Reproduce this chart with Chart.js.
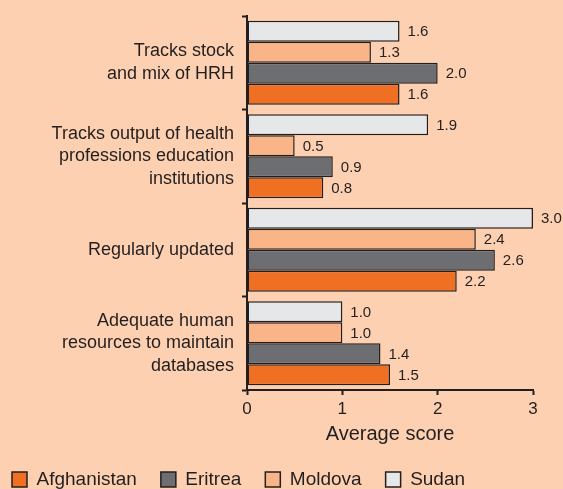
<!DOCTYPE html>
<html>
<head>
<meta charset="utf-8">
<script src="https://cdn.jsdelivr.net/npm/chart.js@4"></script>
<style>
  html, body { margin: 0; padding: 0; background: #FCD0B0; }
  #wrap { width: 563px; height: 489px; position: relative; }
</style>
</head>
<body>
<div id="wrap"><canvas id="myChart"></canvas></div>
<script>
// categories and scores
const categories = [
  ['Tracks stock', 'and mix of HRH'],
  ['Tracks output of health', 'professions education', 'institutions'],
  'Regularly updated',
  ['Adequate human', 'resources to maintain', 'databases']
];
const afghanistan = [1.6, 0.8, 2.2, 1.5];
const eritrea = [2.0, 0.9, 2.6, 1.4];
const moldova = [1.3, 0.5, 2.4, 1.0];
const sudan = [1.6, 1.9, 3.0, 1.0];
const xTicks = [0, 1, 2, 3];

const FONT = '"Liberation Sans", Arial, Helvetica, sans-serif';
const INK = '#231F20';
Chart.defaults.font.family = FONT;
Chart.defaults.color = INK;

// value printed at the end of every bar
const valueLabels = {
  id: 'valueLabels',
  afterDatasetsDraw(chart) {
    const c = chart.ctx;
    c.save();
    c.font = '15px ' + FONT;
    c.fillStyle = INK;
    c.textBaseline = 'middle';
    c.textAlign = 'left';
    chart.data.datasets.forEach((ds, i) => {
      chart.getDatasetMeta(i).data.forEach((bar, j) => {
        c.fillText(ds.data[j].toFixed(1), bar.x + 8, bar.y + 1);
      });
    });
    c.restore();
  }
};

const ctx = document.getElementById('myChart').getContext('2d');

const bar = (label, data, color) => ({
  label: label,
  data: data,
  backgroundColor: color,
  borderColor: INK,
  borderWidth: 1.5,
  borderSkipped: false,
  categoryPercentage: 0.9,
  barPercentage: 1.0
});

const myChart = new Chart(ctx, {
  type: 'bar',
  data: {
    labels: categories,
    datasets: [
      bar('Sudan', sudan, '#E6E7E8'),
      bar('Moldova', moldova, '#F9B487'),
      bar('Eritrea', eritrea, '#6D6E71'),
      bar('Afghanistan', afghanistan, '#F07023')
    ]
  },
  options: {
    indexAxis: 'y',
    responsive: true,
    maintainAspectRatio: false,
    animation: false,
    layout: {
      padding: { top: 16, right: 30, left: -12, bottom: -10 }
    },
    plugins: {
      tooltip: { enabled: false },
      legend: {
        position: 'bottom',
        align: 'start',
        reverse: true,
        labels: {
          boxWidth: 15,
          boxHeight: 15,
          padding: 24,
          color: INK,
          font: { size: 19 }
        }
      }
    },
    scales: {
      x: {
        min: 0,
        max: 3,
        afterBuildTicks: (s) => { s.ticks = xTicks.map(v => ({ value: v })); },
        afterFit: (s) => { s.height = 56; },
        grid: {
          drawOnChartArea: false,
          drawTicks: true,
          tickLength: 5,
          tickWidth: 2,
          tickColor: INK
        },
        border: { color: INK, width: 2 },
        ticks: {
          padding: 4,
          color: INK,
          font: { size: 17 },
          maxRotation: 0
        },
        title: {
          display: true,
          text: 'Average score',
          color: INK,
          font: { size: 20 },
          padding: { top: 2, bottom: 0 }
        }
      },
      y: {
        afterFit: (s) => {
          s.width = 259;
          // labels sit mid-category, no extra room needed above/below
          s.paddingTop = 0;
          s.paddingBottom = 0;
        },
        grid: {
          offset: true,
          drawOnChartArea: false,
          drawTicks: true,
          tickLength: 5,
          tickWidth: 2,
          tickColor: INK
        },
        border: { color: INK, width: 2 },
        ticks: {
          padding: 8,
          color: INK,
          font: { size: 18, lineHeight: 1.25 }
        }
      }
    }
  },
  plugins: [valueLabels]
});
</script>
</body>
</html>
